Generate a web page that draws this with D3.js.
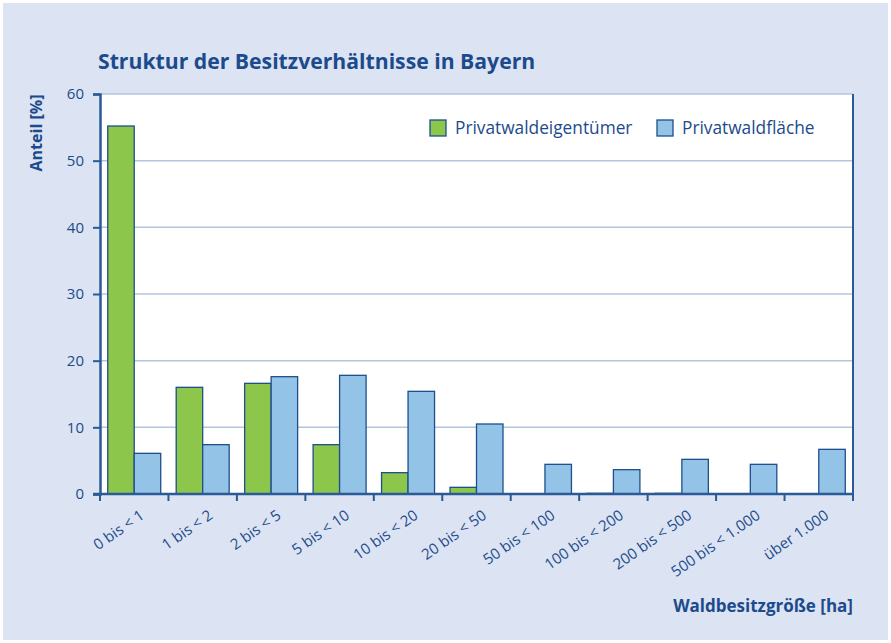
<!DOCTYPE html>
<html>
<head>
<meta charset="utf-8">
<script src="https://cdn.jsdelivr.net/npm/d3@7/dist/d3.min.js"></script>
<style>
  html, body { margin: 0; padding: 0; background: #ffffff; }
  svg { display: block; }
  text { font-family: "Open Sans", "Noto Sans", "DejaVu Sans", sans-serif; fill: #1b4b8c; }
</style>
</head>
<body>
<svg id="chart" width="891" height="643"></svg>
<script>
// Waldbesitzgrößenklassen (ha)
const categories = [
  "0 bis < 1", "1 bis < 2", "2 bis < 5", "5 bis < 10", "10 bis < 20",
  "20 bis < 50", "50 bis < 100", "100 bis < 200", "200 bis < 500",
  "500 bis < 1.000", "über 1.000"
];
// Anteil der Privatwaldeigentümer je Größenklasse (%)
const eigentuemer = [55.2, 16.0, 16.6, 7.4, 3.2, 1.0, 0, 0.1, 0.1, 0, 0];
// Anteil der Privatwaldfläche je Größenklasse (%)
const flaeche = [6.1, 7.4, 17.6, 17.8, 15.4, 10.5, 4.45, 3.65, 5.2, 4.45, 6.7];
const seriesNames = ["Privatwaldeigentümer", "Privatwaldfläche"];
const yTicks = [0, 10, 20, 30, 40, 50, 60];

const colors = ["#8cc64a", "#94c3e8"];
const stroke = "#1d4f8c";
const textColor = "#1b4b8c";

const W = 891, H = 643;
const margin = { left: 100, right: 38, top: 94, bottom: 149 };
const plotW = W - margin.left - margin.right;
const plotH = H - margin.top - margin.bottom;

const svg = d3.select("#chart");

// Hintergrund
svg.append("rect").attr("x", 0).attr("y", 0).attr("width", W).attr("height", H).attr("fill", "#ffffff");
svg.append("rect").attr("x", 3).attr("y", 3).attr("width", W - 6).attr("height", H - 6).attr("fill", "#dce3f2");

const g = svg.append("g").attr("transform", `translate(${margin.left},${margin.top})`);

const x0 = d3.scaleBand().domain(categories).range([0, plotW]).paddingInner(0.226).paddingOuter(0.113);
const x1 = d3.scaleBand().domain([0, 1]).range([0, x0.bandwidth()]);
const y = d3.scaleLinear().domain([0, 60]).range([plotH, 0]);

// Zeichenfläche
g.append("rect").attr("x", 0).attr("y", 0).attr("width", plotW).attr("height", plotH).attr("fill", "#ffffff");

// Gitterlinien
g.append("g").selectAll("line").data(yTicks.filter(d => d > 0)).join("line")
  .attr("x1", 0).attr("x2", plotW)
  .attr("y1", d => y(d)).attr("y2", d => y(d))
  .attr("stroke", "#b3c6de").attr("stroke-width", 1.5);

// Rechter Rahmen
g.append("line").attr("x1", plotW).attr("x2", plotW).attr("y1", 0).attr("y2", plotH)
  .attr("stroke", "#2a5a98").attr("stroke-width", 2);

// Balken
const data = categories.map((c, i) => ({ cat: c, values: [eigentuemer[i], flaeche[i]] }));
const groups = g.append("g").selectAll("g").data(data).join("g")
  .attr("transform", d => `translate(${x0(d.cat)},0)`);
groups.selectAll("rect").data(d => d.values.map((v, k) => ({ v, k })).filter(e => e.v > 0)).join("rect")
  .attr("x", d => x1(d.k))
  .attr("y", d => y(d.v))
  .attr("width", x1.bandwidth())
  .attr("height", d => y(0) - y(d.v))
  .attr("fill", d => colors[d.k])
  .attr("stroke", stroke)
  .attr("stroke-width", 1.3);

// Y-Achse
const yAxis = g.append("g")
  .call(d3.axisLeft(y).tickValues(yTicks).tickSize(7).tickPadding(9).tickFormat(d3.format("d")));
yAxis.select(".domain").attr("stroke", "#2a5a98").attr("stroke-width", 2.5);
yAxis.selectAll(".tick line").attr("stroke", "#2a5a98").attr("stroke-width", 2);
yAxis.selectAll(".tick text").attr("fill", textColor).style("font-size", "15px");

// X-Achse
const tickPos = d3.range(categories.length + 1).map(i => i * x0.step());
const xAxisG = g.append("g").attr("transform", `translate(0,${plotH})`);
xAxisG.append("line").attr("x1", -7).attr("x2", plotW).attr("y1", 0).attr("y2", 0)
  .attr("stroke", "#2a5a98").attr("stroke-width", 2.5);
xAxisG.selectAll("line.tk").data(tickPos).join("line").attr("class", "tk")
  .attr("x1", d => d).attr("x2", d => d).attr("y1", 0).attr("y2", 7)
  .attr("stroke", "#2a5a98").attr("stroke-width", 2);
xAxisG.selectAll("text").data(categories).join("text")
  .attr("transform", d => `translate(${x0(d) + x0.bandwidth() / 2 + 5},${15}) rotate(-35)`)
  .attr("text-anchor", "end")
  .attr("dy", "0.7em")
  .style("font-size", "15px")
  .text(d => d);

// Achsentitel
svg.append("text")
  .attr("transform", `translate(42,${margin.top + 39}) rotate(-90)`)
  .attr("text-anchor", "middle")
  .style("font-size", "16px").style("font-weight", "700")
  .text("Anteil [%]");
svg.append("text")
  .attr("x", margin.left + plotW).attr("y", 612)
  .attr("text-anchor", "end")
  .style("font-size", "17px").style("font-weight", "700")
  .text("Waldbesitzgröße [ha]");

// Titel
svg.append("text")
  .attr("x", 98).attr("y", 69)
  .style("font-size", "21.2px").style("font-weight", "700")
  .text("Struktur der Besitzverhältnisse in Bayern");

// Legende
const legendX = [430, 657];
const legend = svg.append("g").selectAll("g").data(seriesNames).join("g")
  .attr("transform", (d, i) => `translate(${legendX[i]},120)`);
legend.append("rect").attr("width", 16).attr("height", 16)
  .attr("fill", (d, i) => colors[i]).attr("stroke", stroke).attr("stroke-width", 1.3);
legend.append("text").attr("x", 25).attr("y", 8).attr("dy", "0.35em")
  .style("font-size", "17.3px")
  .text(d => d);
</script>
</body>
</html>
